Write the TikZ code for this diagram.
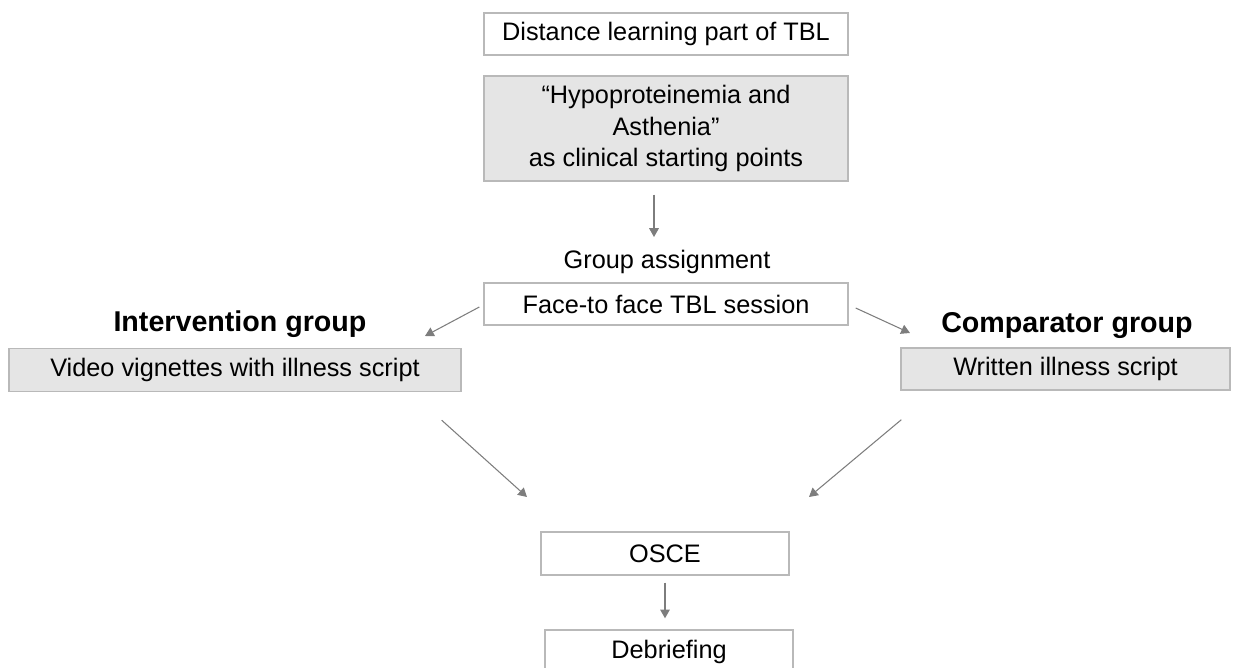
\documentclass[tikz,border=0pt]{standalone}
\usepackage{fontspec}
\setmainfont{Liberation Sans}
\usepackage{xcolor}
\usepackage{tikz}
\usetikzlibrary{arrows.meta}
\definecolor{boxline}{RGB}{185,185,185}
\definecolor{boxfill}{RGB}{229,229,229}
\definecolor{arrowgray}{RGB}{125,125,125}
\tikzset{
x=0.02cm, % one unit is one pixel of the sketch
y=-0.02cm, % y grows downwards, like the sketch
>={Triangle[length=5pt,width=5.5pt]}, % small filled arrow heads
flow/.style={->, draw=arrowgray, line width=0.6pt}, % grey connectors
stage/.style={draw=boxline, line width=0.8pt, inner sep=0pt, align=center, font=\fontsize{14.4}{18}\selectfont}, % plain boxes
shaded/.style={stage, fill=boxfill}, % grey boxes
grouplabel/.style={anchor=base, font=\bfseries\fontsize{16.3}{19}\selectfont}, % bold group titles
}

\begin{document}
\begin{tikzpicture}
            \useasboundingbox (0,0) rectangle (1240,668);
            \clip (0,0) rectangle (1240,668);

            \node[stage, minimum width=7.28cm, minimum height=0.84cm] (dist) at (666,34) {Distance learning part of TBL};
            \node[shaded, minimum width=7.28cm, minimum height=2.1cm] (hypo) at (666,128.5) {“Hypoproteinemia and\\Asthenia”\\as clinical starting points};
            \node[anchor=base, font=\fontsize{14.4}{18}\selectfont] (assign) at (667,269) {Group assignment};
            \node[stage, minimum width=7.28cm, minimum height=0.84cm] (f2f) at (666,304) {Face-to face TBL session};
            \node[grouplabel] (ilabel) at (240,332) {Intervention group};
            \node[shaded, minimum width=9.04cm, minimum height=0.86cm] (video) at (235,370) {Video vignettes with illness script};
            \node[grouplabel] (clabel) at (1067,333) {Comparator group};
            \node[shaded, minimum width=6.58cm, minimum height=0.84cm] (written) at (1065.5,369) {Written illness script};
            \node[stage, minimum width=4.96cm, minimum height=0.86cm] (osce) at (665,553.5) {OSCE};
            \node[stage, minimum width=4.96cm, minimum height=0.86cm] (debrief) at (669,651.5) {Debriefing};

            \coordinate (ahead) at (654,237);
            \coordinate (ihead) at (425,336);
            \coordinate (chead) at (910,333);
            \coordinate (lmeet) at (527,497);
            \coordinate (rmeet) at (809,497);

            \draw[flow] ([shift={(-12,13)}]hypo.south) -- (ahead);
            \draw[flow] ([shift={(-4,3)}]f2f.west) -- (ihead);
            \draw[flow] ([shift={(7,4)}]f2f.east) -- (chead);

            \draw[flow] ([shift={(-20,28)}]video.south east) -- (lmeet);
            \draw[flow] ([shift={(1,29)}]written.south west) -- (rmeet);

            \draw[flow] ([shift={(0,7)}]osce.south) -- ([shift={(-4,-11)}]debrief.north);
        \end{tikzpicture}
\end{document}
